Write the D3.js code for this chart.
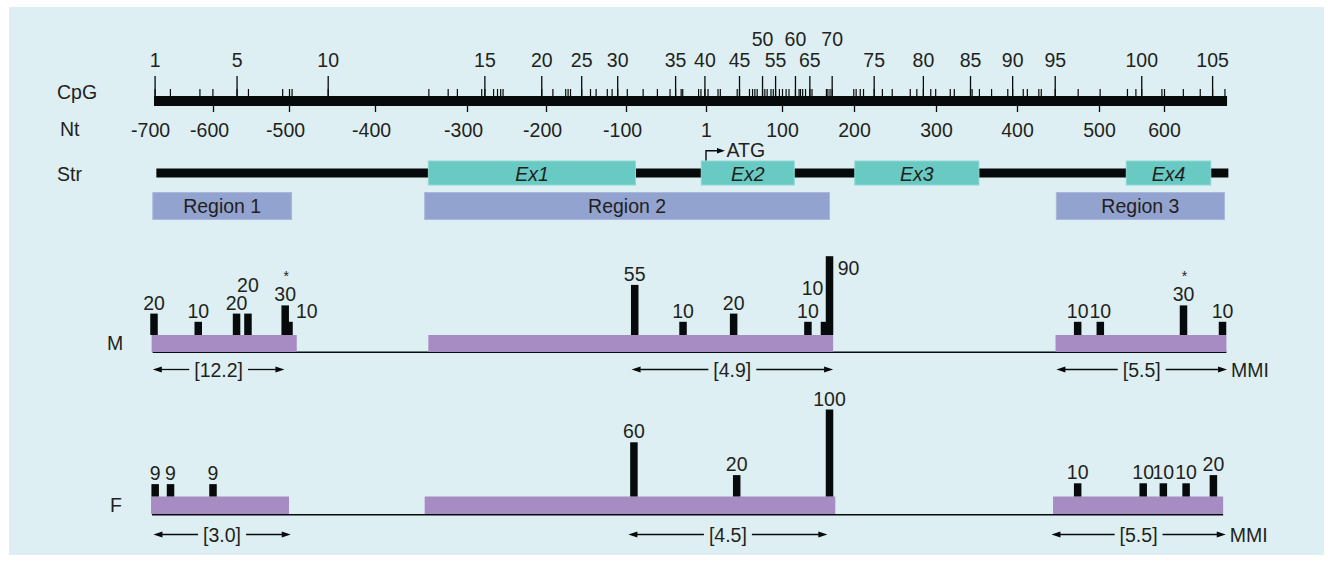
<!DOCTYPE html>
<html><head><meta charset="utf-8">
<script src="https://cdn.jsdelivr.net/npm/d3@7"></script>
<style>
body{margin:0;background:#ffffff}
svg{display:block}
text{font-family:"Liberation Sans",Arial,Helvetica,sans-serif;fill:#231f20}
</style>
</head><body>
<svg id="c" width="1332" height="561"></svg>
<script>
// ================= DATA =================
// Nucleotide axis tick values
const ntTickValues = [-700,-600,-500,-400,-300,-200,-100,1,100,200,300,400,500,600];
// CpG site positions (nucleotide coordinate), CpG #1 .. #106
const cpgNt = [-699,-673,-623,-601,-569,-554,-509,-500,-497,-455,
 -342,-321,-311,-282,-278,-267,-262,-258,-255,-206,
 -192,-176,-173,-170,-156,-145,-138,-124,-118,-111,
 -99,-79,-61,-45,-38,-31,-29,-9,-6,-1,
 3,16,19,41,44,57,61,64,67,74,
 77,80,85,88,91,96,100,105,109,118,
 123,125,128,132,138,141,161,163,166,169,
 199,202,207,211,224,234,246,268,276,284,
 293,299,317,322,342,344,353,368,388,394,
 407,412,426,429,446,474,501,543,556,565,
 596,600,629,655,674,693];
// CpG numbers that are labelled, and those whose label is lifted to the upper line
const cpgLabelled = [1,5,10,15,20,25,30,35,40,45,50,55,60,65,70,75,80,85,90,95,100,105];
const cpgLifted = [50,60,70];

// Gene structure
const exonNames = ["Ex1","Ex2","Ex3","Ex4"];
const exonStart = [-342,-5,201,542];
const exonEnd   = [-88,117,353,672];
const strandStart = -696, strandEnd = 699;
const atgNt = 1;

// Analysed regions
const regionNames = ["Region 1","Region 2","Region 3"];
const regionStart = [-702,-346,448];
const regionEnd   = [-497,166,693];

// M (male) methylation
const mSpanStart = [-704,-342,447];
const mSpanEnd   = [-491,171,696];
const mBarNt     = [-700,-625,-569,-554,-505,-500,-89,-28,37,136,159,166,474,502,630,690];
const mBarValue  = [20,10,20,20,30,10,55,10,20,10,10,90,10,10,30,10];
const mBarStar   = [0,0,0,0,1,0,0,0,0,0,0,0,0,0,1,0];
const mLabelPos  = ["above","above","above","up","above","aboveRight","above","above","above","above","upLeft","side","above","above","above","above"];
const mMmiStart  = [-702,-93,448];
const mMmiEnd    = [-506,171,697];
const mMmi       = ["12.2","4.9","5.5"];

// F (female) methylation
const fSpanStart = [-705,-346,444];
const fSpanEnd   = [-500,174,691];
const fBarNt     = [-698,-672,-600,-90,41,166,474,568,599,634,676];
const fBarValue  = [9,9,9,60,20,100,10,10,10,10,20];
const fBarStar   = [0,0,0,0,0,0,0,0,0,0,0];
const fLabelPos  = ["above","above","above","above","above","above","above","above","above","above","above"];
const fMmiStart  = [-701,-97,442];
const fMmiEnd    = [-498,163,695];
const fMmi       = ["3.0","4.5","5.5"];

// ================= STYLE / LAYOUT =================
const C = {bg:"#ddeff2", black:"#060a0b", teal:"#68cac3", tealStroke:"#8fd9d3",
  region:"#93a3cf", regionStroke:"#aab6dc", purple:"#a78bc3", text:"#231f20"};
const FS = 19.5;
const svg = d3.select("#c");

svg.append("rect").attr("x",9).attr("y",7).attr("width",1315).attr("height",548).attr("fill",C.bg);

// Schematic (piecewise-linear) nucleotide scale
const x = d3.scaleLinear()
  .domain([-700,-600,-500,-400,-300,-200,-100,1,100,200,300,400,500,600,700])
  .range([154,213,289,375,467,546,626,706,782,854,936,1017,1099,1164,1229]);
const h = d3.scaleLinear().domain([0,100]).range([5,87]);

function label(t, xx, yy, opts={}) {
  const el = svg.append("text").attr("x",xx).attr("y",yy).attr("font-size",opts.fs||FS)
    .attr("text-anchor",opts.anchor||"start").text(t);
  if (opts.italic) el.attr("font-style","italic");
  return el;
}

// Row labels
label("CpG",57,99);
label("Nt",60,136);
label("Str",57,180.5);
label("M",107,350);
label("F",110,512);

// ---- CpG track ----
const barY = 96;
svg.append("rect").attr("x",x(-700)).attr("y",barY).attr("width",x(697)-x(-700)).attr("height",10).attr("fill",C.black);

const minorAxis = d3.axisTop(x).tickValues(cpgNt).tickSize(7).tickFormat("");
const gMinor = svg.append("g").attr("transform",`translate(0,${barY})`).call(minorAxis);
gMinor.select(".domain").remove();
gMinor.selectAll("line").attr("stroke",C.black).attr("stroke-width",1.2);

const labelledNt = cpgLabelled.map(i => cpgNt[i-1]);
const ntToCpg = new Map(cpgLabelled.map(i => [cpgNt[i-1], i]));
const majorAxis = d3.axisTop(x).tickValues(labelledNt).tickSize(20).tickPadding(9.3)
  .tickFormat(d => ntToCpg.get(d));
const gMajor = svg.append("g").attr("transform",`translate(0,${barY})`).call(majorAxis);
gMajor.select(".domain").remove();
gMajor.selectAll("line").attr("stroke",C.black).attr("stroke-width",1.3);
gMajor.selectAll("text").attr("font-size",FS).attr("font-family",null).attr("fill",C.text)
  .attr("y", d => cpgLifted.includes(ntToCpg.get(d)) ? -50 : -29.3);

// ---- Nt axis ----
const ntAxis = d3.axisBottom(x).tickValues(ntTickValues).tickSize(6).tickPadding(11.5)
  .tickFormat(d => String(d));
const gNt = svg.append("g").attr("transform",`translate(0,${barY+10})`).call(ntAxis);
gNt.select(".domain").remove();
gNt.selectAll("line").attr("stroke",C.black).attr("stroke-width",1.3)
  .attr("display", d => d === -700 ? "none" : null);
gNt.selectAll("text").attr("font-size",FS).attr("font-family",null).attr("fill",C.text)
  .attr("dx", d => d < 0 ? "-0.2em" : null);

// ---- Structure ----
svg.append("rect").attr("x",x(strandStart)).attr("y",168.5).attr("width",x(strandEnd)-x(strandStart))
  .attr("height",9).attr("fill",C.black);
exonNames.forEach((n,i) => {
  svg.append("rect").attr("x",x(exonStart[i])).attr("y",161).attr("width",x(exonEnd[i])-x(exonStart[i]))
    .attr("height",24).attr("fill",C.teal).attr("stroke",C.tealStroke).attr("stroke-width",1);
  label(n,(x(exonStart[i])+x(exonEnd[i]))/2,180.5,{anchor:"middle",italic:true});
});
// ATG arrow
const ax = x(atgNt);
svg.append("path").attr("d",`M${ax},160.5 V150.7 H${ax+12}`).attr("fill","none")
  .attr("stroke",C.black).attr("stroke-width",1.4);
svg.append("path").attr("d",`M${ax+11},147.9 L${ax+19},150.7 L${ax+11},153.5 Z`).attr("fill",C.black);
label("ATG",ax+20.5,156.7);

// Regions
regionNames.forEach((n,i) => {
  svg.append("rect").attr("x",x(regionStart[i])).attr("y",192.5).attr("width",x(regionEnd[i])-x(regionStart[i]))
    .attr("height",27).attr("fill",C.region).attr("stroke",C.regionStroke).attr("stroke-width",1);
  label(n,(x(regionStart[i])+x(regionEnd[i]))/2,212.7,{anchor:"middle"});
});

// ---- Methylation rows ----
function methRow(cfg) {
  const {spanStart, spanEnd, base, spanH, lineY, barNt, barValue, barStar, labelPos, mmiStart, mmiEnd, mmi, mmiY} = cfg;
  svg.append("line").attr("x1",x(d3.min(spanStart))+1).attr("x2",x(d3.max(spanEnd))).attr("y1",lineY).attr("y2",lineY)
    .attr("stroke",C.black).attr("stroke-width",1.5);
  spanStart.forEach((s,i) => {
    svg.append("rect").attr("x",x(s)).attr("y",base).attr("width",x(spanEnd[i])-x(s)).attr("height",spanH)
      .attr("fill",C.purple);
  });
  const bw = 7.5;
  barNt.forEach((n,i) => {
    const cx = x(n), top = base - h(barValue[i]);
    svg.append("rect").attr("x",cx-bw/2).attr("y",top).attr("width",bw).attr("height",h(barValue[i]))
      .attr("fill",C.black);
    let lx = cx, ly = top - 4, anchor = "middle";
    switch (labelPos[i]) {
      case "up": ly = top - 22; break;
      case "aboveRight": lx = cx + 7; anchor = "start"; ly = top - 4; break;
      case "upLeft": lx = cx - 1; anchor = "end"; ly = top - 26.5; break;
      case "side": lx = cx + bw/2 + 4.5; anchor = "start"; ly = top + 19; break;
    }
    label(String(barValue[i]), lx, ly, {anchor});
    if (barStar[i]) label("*", lx + 1, ly - 20, {anchor:"middle", fs:14});
  });
  // MMI arrows
  mmi.forEach((v,i) => {
    const x0 = x(mmiStart[i]), x1 = x(mmiEnd[i]), mid = (x0+x1)/2;
    const t = label(`[${v}]`, mid, mmiY+7.5, {anchor:"middle"});
    const w = t.node().getComputedTextLength();
    const ah = 9, aw = 3;
    svg.append("line").attr("x1",x0+ah-1).attr("x2",mid-w/2-5).attr("y1",mmiY).attr("y2",mmiY)
      .attr("stroke",C.black).attr("stroke-width",1.3);
    svg.append("line").attr("x1",mid+w/2+5).attr("x2",x1-ah+1).attr("y1",mmiY).attr("y2",mmiY)
      .attr("stroke",C.black).attr("stroke-width",1.3);
    svg.append("path").attr("d",`M${x0},${mmiY} L${x0+ah},${mmiY-aw} L${x0+ah},${mmiY+aw} Z`).attr("fill",C.black);
    svg.append("path").attr("d",`M${x1},${mmiY} L${x1-ah},${mmiY-aw} L${x1-ah},${mmiY+aw} Z`).attr("fill",C.black);
    if (i === mmi.length-1) label("MMI", x1+4, mmiY+7.5);
  });
}

methRow({spanStart:mSpanStart, spanEnd:mSpanEnd, base:335, spanH:17, lineY:352.3,
  barNt:mBarNt, barValue:mBarValue, barStar:mBarStar, labelPos:mLabelPos,
  mmiStart:mMmiStart, mmiEnd:mMmiEnd, mmi:mMmi, mmiY:369.5});
methRow({spanStart:fSpanStart, spanEnd:fSpanEnd, base:496.5, spanH:17.5, lineY:514.7,
  barNt:fBarNt, barValue:fBarValue, barStar:fBarStar, labelPos:fLabelPos,
  mmiStart:fMmiStart, mmiEnd:fMmiEnd, mmi:fMmi, mmiY:534.5});
</script>
</body></html>
